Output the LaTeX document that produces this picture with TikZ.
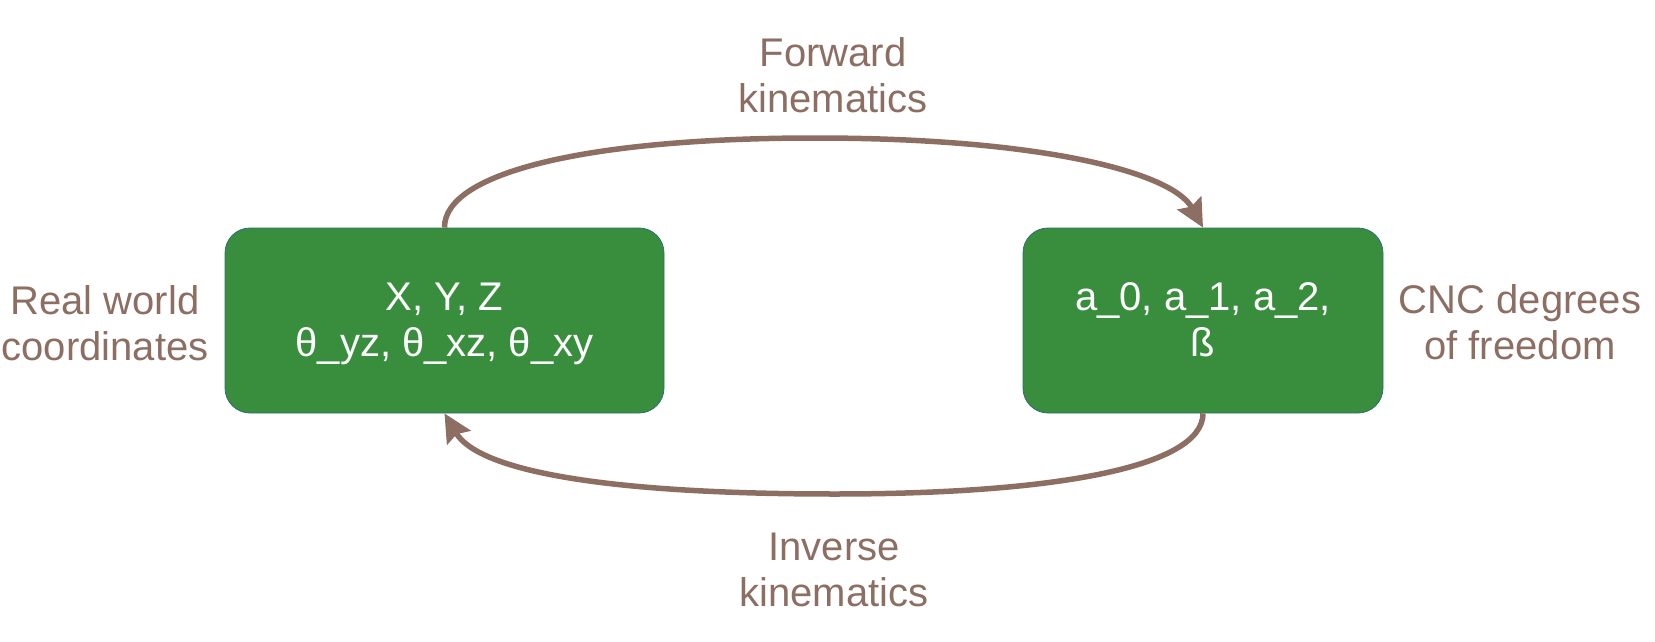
\documentclass[tikz,border=0pt]{standalone}
\usepackage{fontspec}
\setmainfont{Liberation Sans}
\usetikzlibrary{arrows.meta}
\definecolor{boxgreen}{HTML}{388E3C}
\definecolor{boxedge}{HTML}{2F6E78}
\definecolor{brownline}{HTML}{8D6E63}
\tikzset{
  greenbox/.style={draw=boxedge, line width=0.8pt, fill=boxgreen, rounded corners=25pt,
    minimum height=185pt, inner sep=0pt},
  boxtext/.style={text=white, align=center, font=\fontsize{40pt}{46pt}\selectfont, inner sep=0pt},
  sidelabel/.style={text=brownline, align=center, font=\fontsize{40pt}{46pt}\selectfont, inner sep=0pt},
  conn/.style={draw=brownline, line width=5.5pt,
    -{Stealth[length=28pt, width=27pt, inset=4pt]}},
}
\begin{document}
\begin{tikzpicture}[x=1pt, y=-1pt]
  \useasboundingbox (0,0) rectangle (1655,642);
  \node[greenbox, minimum width=439pt] (box1) at (444.5,320.5) {};
  \node[greenbox, minimum width=360pt] (box2) at (1203,320.5) {};
  \node[boxtext] (t1) at (444.5,323.9) {X, Y, Z\\θ\_yz, θ\_xz, θ\_xy};
  \node[boxtext] (t2) at (1203,319.7) {a\_0, a\_1, a\_2,\\ß};
  \node[sidelabel] (lreal) at (105,322.7) {Real world\\coordinates};
  \node[sidelabel] (lcnc) at (1520,322.5) {CNC degrees\\of freedom};
  \node[sidelabel] (lfwd) at (833,75.7) {Forward\\kinematics};
  \node[sidelabel] (linv) at (834,569.7) {Inverse\\kinematics};
  \draw[conn] (box1.north) .. controls (444,172) and (590,138) .. (815,138)
     .. controls (1040,138) and (1172,172) .. (box2.north);
  \draw[conn] (box2.south) .. controls (1203,468) and (1050,494) .. (835,494)
     .. controls (600,494) and (478,470) .. (box1.south);
\end{tikzpicture}
\end{document}
